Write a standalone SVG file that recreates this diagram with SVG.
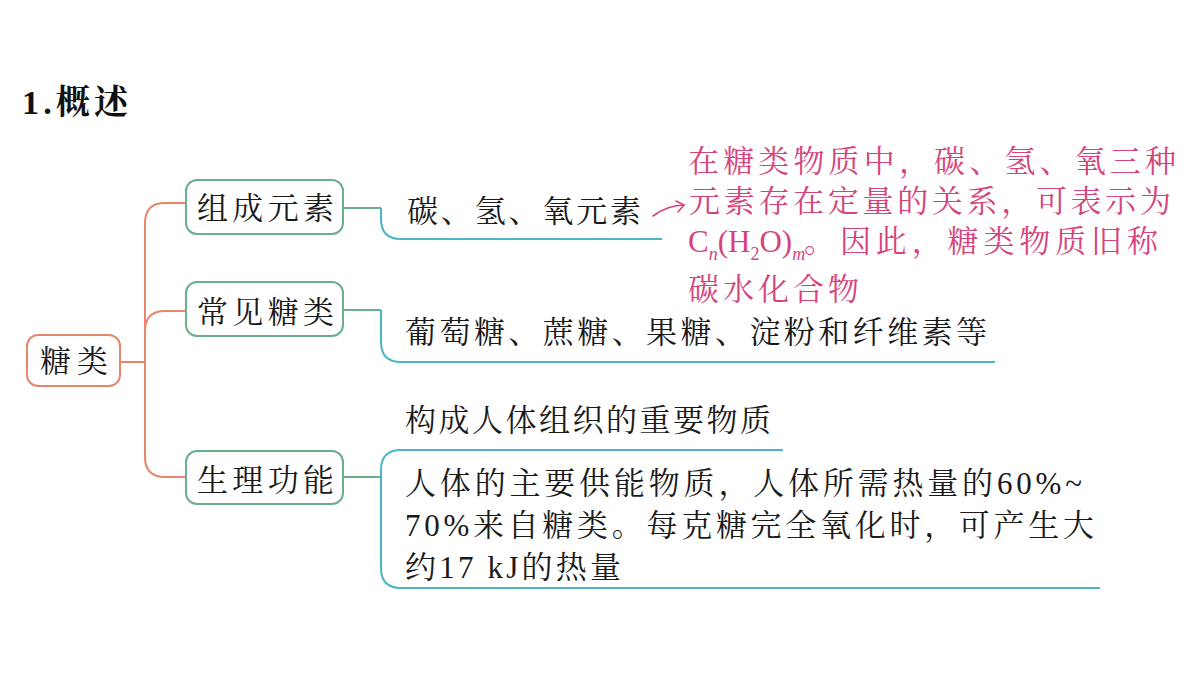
<svg xmlns="http://www.w3.org/2000/svg" width="1200" height="675" viewBox="0 0 1200 675">
<style>
.bg{fill:#ffffff}
.t{font-family:"Liberation Serif","Noto Serif CJK SC","Noto Sans CJK SC",serif;font-size:31px;fill:#1a1a1a}
.p{font-family:"Liberation Serif","Noto Serif CJK SC","Noto Sans CJK SC",serif;font-size:31px;fill:#d6437c}
.title{font-family:"Liberation Serif","Noto Serif CJK SC","Noto Sans CJK SC",serif;font-size:34px;font-weight:bold;fill:#111}
.root{fill:#fff;stroke:#e8866a;stroke-width:2}
.br{fill:#fff;stroke:#6aae8e;stroke-width:2}
.co{fill:none;stroke:#e8866a;stroke-width:2}
.cg{fill:none;stroke:#6aae8e;stroke-width:2}
.ct{fill:none;stroke:#4bb5c6;stroke-width:2}
.pa{fill:none;stroke:#d6437c;stroke-width:1.6;stroke-linecap:round}
</style>
<rect class="bg" x="0" y="0" width="1200" height="675"/>
<text class="title" x="22" y="114" textLength="106" lengthAdjust="spacing">1.概述</text>
<g id="connectors">
<path class="co" d="M120,362 H145"/>
<path class="co" d="M186,203 H165 Q145,203 145,223 V457 Q145,477 165,477 H186"/>
<path class="co" d="M145,331 Q145,311 165,311 H186"/>
<path class="cg" d="M343,208 H381"/>
<path class="ct" d="M381,208 V219 Q381,239 401,239 H662"/>
<path class="cg" d="M343,310 H381"/>
<path class="ct" d="M381,310 V342 Q381,362 401,362 H995"/>
<path class="cg" d="M343,477 H381"/>
<path class="ct" d="M783,450 H401 Q381,450 381,470 V568 Q381,588 401,588 H1100"/>
<path class="pa" d="M653,216 Q668,205 684,205"/>
<path class="pa" d="M676,201 L684,205 L678,212"/>
</g>
<g id="root">
<rect class="root" x="27" y="335" width="93" height="51" rx="11"/>
<text class="t" x="40" y="372" textLength="68" lengthAdjust="spacing">糖类</text>
</g>
<g id="branch-composition">
<rect class="br" x="186" y="180" width="157" height="54" rx="11"/>
<text class="t" x="197" y="219" textLength="137" lengthAdjust="spacing">组成元素</text>
</g>
<g id="branch-common">
<rect class="br" x="186" y="282" width="157" height="54" rx="11"/>
<text class="t" x="197" y="323" textLength="137" lengthAdjust="spacing">常见糖类</text>
</g>
<g id="branch-function">
<rect class="br" x="186" y="451" width="157" height="53" rx="11"/>
<text class="t" x="197" y="491" textLength="137" lengthAdjust="spacing">生理功能</text>
</g>
<g id="leaf-elements">
<text class="t" x="407" y="222" textLength="234" lengthAdjust="spacing">碳、氢、氧元素</text>
</g>
<g id="note">
<text class="p" x="688" y="172" textLength="488" lengthAdjust="spacing">在糖类物质中，碳、氢、氧三种</text>
<text class="p" x="689" y="212" textLength="482" lengthAdjust="spacing">元素存在定量的关系，可表示为</text>
<text class="p" x="688" y="252" font-size="29">C<tspan font-size="18" font-style="italic" dy="8">n</tspan><tspan dy="-8">(H</tspan><tspan font-size="18" dy="8">2</tspan><tspan dy="-8">O)</tspan><tspan font-size="18" font-style="italic" dy="8">m</tspan></text>
<text class="p" x="804" y="252" textLength="354" lengthAdjust="spacing">。因此，糖类物质旧称</text>
<text class="p" x="688" y="300" textLength="171" lengthAdjust="spacing">碳水化合物</text>
</g>
<g id="leaf-common">
<text class="t" x="405" y="343" textLength="582" lengthAdjust="spacing">葡萄糖、蔗糖、果糖、淀粉和纤维素等</text>
</g>
<g id="leaf-function">
<text class="t" x="405" y="431" textLength="366" lengthAdjust="spacing">构成人体组织的重要物质</text>
<text class="t" x="405" y="494" textLength="677" lengthAdjust="spacing">人体的主要供能物质，人体所需热量的60%~</text>
<text class="t" x="405" y="536" textLength="689" lengthAdjust="spacing">70%来自糖类。每克糖完全氧化时，可产生大</text>
<text class="t" x="405" y="578" textLength="216" lengthAdjust="spacing">约17 kJ的热量</text>
</g>
</svg>
